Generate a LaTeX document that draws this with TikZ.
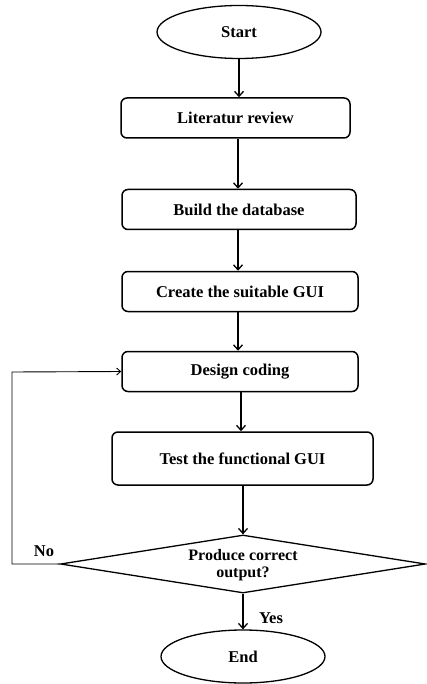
\documentclass[tikz,border=0pt]{standalone}
\usepackage{fontspec}
\setmainfont{Liberation Serif}
\usetikzlibrary{shapes.geometric,arrows.meta}
\begin{document}
\begin{tikzpicture}[x=1pt,y=-1pt,
  every node/.style={font=\fontsize{16.5}{18}\selectfont\bfseries},
  proc/.style={draw,line width=1.5pt,rounded corners=6pt,minimum height=40pt,inner sep=0pt},
  term/.style={draw,ellipse,line width=1.3pt,minimum width=164pt,minimum height=53pt,inner sep=0pt},
  arr/.style={line width=1.8pt,-{Straight Barb[length=5pt,width=9pt,line width=1.3pt]}},
  thin/.style={line width=0.9pt}]
\useasboundingbox (0,0) rectangle (427,684);
\node[term] (start) at (239,32) {Start};
\node[proc,minimum width=229pt] (lit) at (235.5,118) {Literatur review};
\node[proc,minimum width=234pt] (build) at (239,209.5) {Build the database};
\node[proc,minimum width=236pt] (create) at (240,291.5) {Create the suitable GUI};
\node[proc,minimum width=236pt] (design) at (240,371.5) {Design coding};
\node[proc,minimum width=261pt,minimum height=53pt] (test) at (242.5,458.5) {Test the functional GUI};
\node[draw,diamond,line width=1.3pt,minimum width=365pt,minimum height=58pt,inner sep=0pt] (dec) at (243,564) {};
\node[align=center,font=\fontsize{16}{17}\selectfont\bfseries] (dect) at (243,565) {Produce correct\\output?};
\node[term] (end) at (243,656.5) {End};
\coordinate (c1) at (12,564);
\coordinate (c2) at (12,372);
\draw[arr] (start.south) -- (start.south |- lit.north);
\draw[arr] (lit.south -| 238,0) -- (238,0 |- build.north);
\draw[arr] (build.south -| 238,0) -- (238,0 |- create.north);
\draw[arr] (create.south -| 238,0) -- (238,0 |- design.north);
\draw[arr] (design.south -| 241,0) -- (241,0 |- test.north);
\draw[arr] (test.south -| 243,0) -- (dec.north);
\draw[arr] (dec.south) -- (end.north);
\draw[thin,-{Straight Barb[length=4pt,width=7pt]}] (dec.west) -- (c1) -- (c2) -- (design.west);
\node (no) at (44,551) {No};
\node (yes) at (271,618) {Yes};
\end{tikzpicture}
\end{document}
